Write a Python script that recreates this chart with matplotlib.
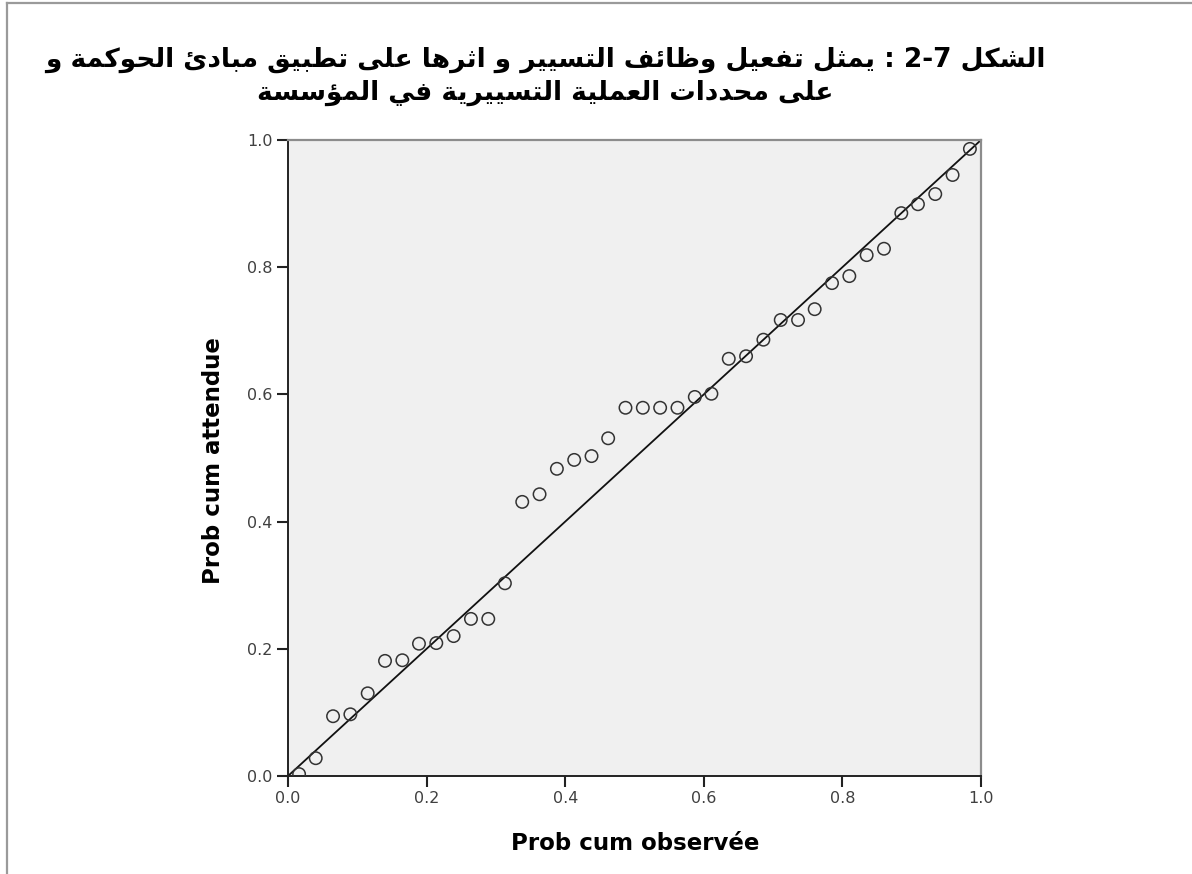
import matplotlib
matplotlib.use("Agg")
import matplotlib.pyplot as plt
from matplotlib.lines import Line2D

# P-P plot values
obs = [0.016, 0.040, 0.065, 0.090, 0.115, 0.140, 0.165, 0.189, 0.214, 0.239,
       0.264, 0.289, 0.313, 0.338, 0.363, 0.388, 0.413, 0.438, 0.462, 0.487,
       0.512, 0.537, 0.562, 0.587, 0.611, 0.636, 0.661, 0.686, 0.711, 0.736,
       0.760, 0.785, 0.810, 0.835, 0.860, 0.885, 0.909, 0.934, 0.959, 0.984]
expd = [0.003, 0.028, 0.094, 0.097, 0.130, 0.181, 0.182, 0.208, 0.209, 0.220,
        0.247, 0.247, 0.303, 0.431, 0.443, 0.483, 0.497, 0.503, 0.531, 0.579,
        0.579, 0.579, 0.579, 0.596, 0.601, 0.656, 0.660, 0.686, 0.717, 0.717,
        0.734, 0.775, 0.786, 0.819, 0.829, 0.885, 0.899, 0.915, 0.945, 0.986]
ticks = [0.0, 0.2, 0.4, 0.6, 0.8, 1.0]
tick_labels = ["0.0", "0.2", "0.4", "0.6", "0.8", "1.0"]
title_lines = ["الشكل 2-7 : يمثل تفعيل وظائف التسيير و اثرها على تطبيق مبادئ الحوكمة و",
               "على محددات العملية التسييرية في المؤسسة"]
xlabel = "Prob cum observée"
ylabel = "Prob cum attendue"

# arabic presentation forms: (isolated code, number of forms)
FORMS = {'ا': (0xFE8D, 2), 'ب': (0xFE8F, 4), 'ة': (0xFE93, 2), 'ت': (0xFE95, 4),
         'ث': (0xFE99, 4), 'ح': (0xFEA1, 4), 'د': (0xFEA9, 2), 'ر': (0xFEAD, 2),
         'س': (0xFEB1, 4), 'ش': (0xFEB5, 4), 'ط': (0xFEC1, 4), 'ظ': (0xFEC5, 4),
         'ع': (0xFEC9, 4), 'ف': (0xFED1, 4), 'ق': (0xFED5, 4), 'ك': (0xFED9, 4),
         'ل': (0xFEDD, 4), 'م': (0xFEE1, 4), 'ن': (0xFEE5, 4), 'ه': (0xFEE9, 4),
         'و': (0xFEED, 2), 'ى': (0xFEEF, 2), 'ي': (0xFEF1, 4), 'ؤ': (0xFE85, 2),
         'ئ': (0xFE89, 4)}


def shape_word(w):
    out = []
    for k, ch in enumerate(w):
        if ch not in FORMS:
            out.append(ch)
            continue
        base, n = FORMS[ch]
        prev = w[k - 1] if k > 0 else ''
        nxt = w[k + 1] if k + 1 < len(w) else ''
        jp = prev in FORMS and FORMS[prev][1] == 4
        jn = n == 4 and nxt in FORMS
        f = 3 if (jp and jn) else 1 if jp else 2 if jn else 0
        out.append(chr(base + f))
    return ''.join(out)


def visual(line):
    # right-to-left: reverse word order and letters, keep numbers as they are
    res = []
    for t in reversed(line.split(' ')):
        if any(c in FORMS for c in t):
            res.append(shape_word(t)[::-1])
        else:
            res.append(t)
    return ' '.join(res)


W, H = 1192, 874
fig = plt.figure(figsize=(W / 100, H / 100), dpi=100)
ax = fig.add_axes([288 / W, 1 - 776 / H, 693 / W, 636 / H])
ax.set_facecolor('#f0f0f0')

ax.plot([0, 1], [0, 1], color='#111111', lw=1.3, zorder=2)
ax.scatter(obs, expd, s=80, facecolors='none', edgecolors='#333333',
           linewidths=1.1, zorder=3)

ax.set_xlim(0, 1)
ax.set_ylim(0, 1)
ax.set_xticks(ticks)
ax.set_yticks(ticks)
ax.set_xticklabels(tick_labels)
ax.set_yticklabels(tick_labels)
ax.tick_params(direction='out', length=8, width=1.5, color='#222222',
               labelsize=11.5, labelcolor='#404040', pad=3)
for s in ['top', 'right']:
    ax.spines[s].set_color('#8c8c8c')
    ax.spines[s].set_linewidth(1.6)
for s in ['left', 'bottom']:
    ax.spines[s].set_color('#222222')
    ax.spines[s].set_linewidth(1.4)

fig.text(635 / W, 1 - 843 / H, xlabel, ha='center', va='center',
         fontsize=16.5, fontweight='bold')
fig.text(213 / W, 1 - 461 / H, ylabel, ha='center', va='center',
         rotation=90, fontsize=16.5, fontweight='bold')

fig.text(545 / W, 1 - 67 / H, visual(title_lines[0]), ha='center',
         va='baseline', fontsize=19, fontweight='bold')
fig.text(545 / W, 1 - 100 / H, visual(title_lines[1]), ha='center',
         va='baseline', fontsize=19, fontweight='bold')

# outer frame of the chart
fig.add_artist(Line2D([7 / W, 7 / W], [0, 1 - 3 / H], color='#9a9a9a', lw=1.6))
fig.add_artist(Line2D([7 / W, 1], [1 - 3 / H, 1 - 3 / H], color='#9a9a9a', lw=1.6))

fig.savefig('out.png', dpi=100, facecolor='white')
